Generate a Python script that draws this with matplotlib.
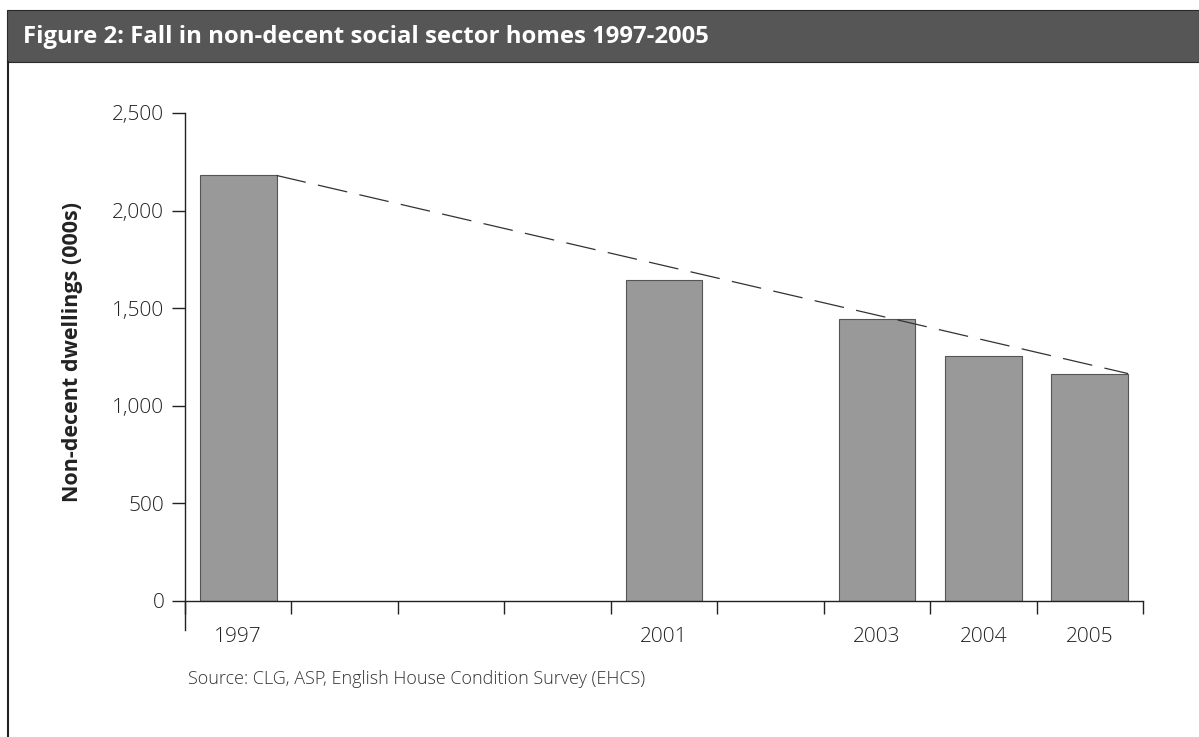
import matplotlib
matplotlib.use("Agg")
import matplotlib.pyplot as plt
from matplotlib.patches import Rectangle
from matplotlib.lines import Line2D

# ---- data ----
years = [1997, 2001, 2003, 2004, 2005]
values = [2180, 1645, 1445, 1255, 1165]          # thousands of dwellings
year_range = list(range(1997, 2006))
y_ticks = [0, 500, 1000, 1500, 2000, 2500]
y_tick_labels = ["0", "500", "1,000", "1,500", "2,000", "2,500"]
title = "Figure 2: Fall in non-decent social sector homes 1997-2005"
y_label = "Non-decent dwellings (000s)"
source = "Source: CLG, ASP, English House Condition Survey (EHCS)"

W, H = 1199, 737
fig = plt.figure(figsize=(W / 100, H / 100), dpi=100)
fig.patch.set_facecolor("white")

# banner
fig.patches.append(Rectangle((7 / W, 1 - 62 / H), 1 - 7 / W, 52 / H,
                             transform=fig.transFigure, facecolor="#565656",
                             edgecolor="#2a2a2a", linewidth=0.8, zorder=0))
fig.text(23 / W, 1 - 43 / H, title, color="white", fontsize=17.2,
         fontweight="bold", family="Open Sans", va="baseline", ha="left")
# left frame line
fig.add_artist(Line2D([7.5 / W, 7.5 / W], [0, 1 - 62 / H], transform=fig.transFigure,
                      color="#222222", linewidth=1.5))

ax = fig.add_axes([185 / W, 1 - 601 / H, (1143 - 185) / W, (601 - 113) / H])
ax.set_xlim(year_range[0] - 0.5, year_range[-1] + 0.5)
ax.set_ylim(0, 2500)

bar_w = 0.72
ax.bar(years, values, width=bar_w, color="#999999", edgecolor="#555555",
       linewidth=0.8, zorder=2)

# dashed trend line from first to last bar (right edges)
ax.plot([years[0] + bar_w / 2, years[-1] + bar_w / 2], [values[0], values[-1]],
        color="#333333", linewidth=0.9, linestyle=(0, (24, 10)), zorder=3)

for s in ["top", "right"]:
    ax.spines[s].set_visible(False)
ax.spines["left"].set_bounds(-150, 2500)
ax.spines["left"].set_linewidth(1.0)
ax.spines["bottom"].set_linewidth(1.0)
ax.spines["left"].set_color("#222222")
ax.spines["bottom"].set_color("#222222")

ax.set_yticks(y_ticks)
ax.set_yticklabels(y_tick_labels, fontsize=15, family="Open Sans",
                   fontweight="light", color="#222222")
ax.tick_params(axis="y", direction="out", length=9.4, width=1.0, pad=5.5,
               color="#222222")

ax.set_xticks(years)
ax.set_xticklabels([str(y) for y in years], fontsize=15, family="Open Sans",
                   fontweight="light", color="#222222")
ax.set_xticks([y - 0.5 for y in year_range] + [year_range[-1] + 0.5], minor=True)
ax.tick_params(axis="x", which="major", length=0, pad=19)
ax.tick_params(axis="x", which="minor", direction="out", length=9.4, width=1.0,
               color="#222222")

fig.text(73 / W, 1 - 352 / H, y_label, fontsize=15.5, fontweight="bold",
         family="Open Sans", color="#222222", rotation=90, ha="center", va="center")

fig.text(188 / W, 1 - 679 / H, source, fontsize=13, family="Open Sans",
         fontweight="light", color="#333333", va="center", ha="left")

fig.savefig("out.png", dpi=100)
